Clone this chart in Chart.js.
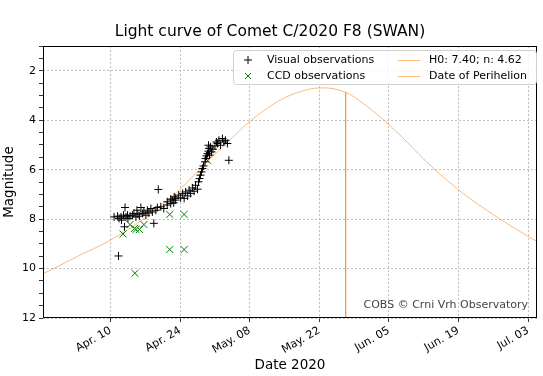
<!DOCTYPE html>
<html>
<head>
<meta charset="utf-8">
<script src="https://cdn.jsdelivr.net/npm/chart.js@4.4.1/dist/chart.umd.min.js"></script>
<style>
    html, body { margin: 0; padding: 0; background: #fff; }
</style>
</head>
<body>
<canvas id="myChart" width="543" height="376"></canvas>
<script>
// x values are day of year 2020 (Jan 1 = 1)
const tickDays = [101, 115, 129, 143, 157, 171, 185];
const tickLabels = ["Apr. 10", "Apr. 24", "May. 08", "May. 22", "Jun. 05", "Jun. 19", "Jul. 03"];

const visualDays = [
    101.7, 102.4, 102.7, 103.1, 103.2, 103.6, 103.9, 104.1, 104.4, 104.5,
    104.9, 105.4, 105.7, 106.1, 106.3, 106.5, 106.8, 107.1, 107.4, 107.7,
    108.1, 108.4, 108.7, 109.1, 109.4, 109.7, 110.1, 110.4, 111.1, 111.7,
    112.4, 113.1, 113.7, 103.8, 102.6, 110.6, 112.4, 113.4, 114.0,
    113.1, 113.8, 114.1, 114.7, 115.1, 115.5, 115.8, 116.1, 116.5, 116.8,
    117.1, 117.5, 117.8, 118.1, 118.5, 118.7, 118.9, 119.1, 119.3, 119.5,
    119.7, 120.0, 120.1, 120.3, 120.5, 120.7, 120.8, 120.9, 121.1, 121.3,
    121.6, 122.0, 122.5, 122.8, 123.1, 123.5, 123.8, 124.1, 124.5, 124.8,
    120.7, 122.3,
];
const visualMags = [
    7.91, 7.88, 7.97, 7.91, 8.04, 7.84, 7.53, 7.91, 7.84, 7.97,
    7.88, 7.84, 7.77, 7.91, 7.64, 7.80, 7.88, 7.53, 7.77, 7.71,
    7.84, 7.64, 7.75, 7.57, 7.71, 8.17, 7.64, 7.53, 7.50, 7.57,
    7.43, 7.37, 7.34, 8.31, 9.49, 6.80, 7.30, 7.23, 7.16,
    7.19, 7.10, 7.23, 7.03, 7.14, 6.96, 7.16, 6.90, 7.06, 6.83,
    6.96, 6.74, 6.87, 6.63, 6.79, 6.49, 6.36, 6.22, 6.09, 5.95,
    5.85, 5.68, 5.55, 5.44, 5.35, 5.25, 5.14, 5.41, 5.08, 5.28,
    5.17, 5.04, 4.94, 4.81, 5.01, 4.74, 4.88, 4.81, 4.94, 5.62,
    5.01, 4.88,
];

const ccdDays = [103.5, 104.9, 105.8, 106.1, 106.8, 107.7, 105.9, 112.9, 115.8, 112.9, 115.8, 120.5];
const ccdMags = [8.60, 8.22, 8.38, 8.42, 8.42, 8.22, 10.19, 7.81, 7.81, 9.23, 9.23, 5.62];

// model light curve
const curveDays = [
    86.8, 91, 95, 99.8, 105, 110, 115, 120.5, 125, 129, 133, 136, 139, 141,
    143, 145, 147, 149, 151, 154, 157, 160, 163, 166, 169, 172, 175, 178, 181, 185, 187,
];
const curveMags = [
    10.27, 9.85, 9.44, 8.98, 8.36, 7.64, 6.79, 5.66, 4.80, 4.05, 3.45, 3.09, 2.85, 2.74,
    2.69, 2.70, 2.78, 2.93, 3.20, 3.66, 4.18, 4.75, 5.37, 5.95, 6.48, 6.97, 7.41, 7.82, 8.21, 8.70, 8.93,
];

const perihelionDay = 148.3;
const perihelionMags = [2.88, 12];

const FONT = "'DejaVu Sans', sans-serif";
const orange = "rgba(255, 127, 14, 0.55)";
const gridGrey = "#b0b0b0";

const pts = (xs, ys) => xs.map((x, i) => ({ x: x, y: ys[i] }));

// frame, legend box and credit line
const extras = {
    id: "extras",
    afterDraw(chart) {
        const ctx = chart.ctx;
        const a = chart.chartArea;
        ctx.save();
        ctx.strokeStyle = "#000";
        ctx.lineWidth = 1;
        ctx.strokeRect(Math.round(a.left) + 0.5, Math.round(a.top) + 0.5,
            Math.round(a.right - a.left) - 1, Math.round(a.bottom - a.top) - 1);

        // credit
        ctx.font = "11px " + FONT;
        ctx.fillStyle = "#444";
        ctx.textAlign = "right";
        ctx.textBaseline = "middle";
        ctx.fillText("COBS \u00a9 Crni Vrh Observatory", 528, 305);

        // legend
        ctx.beginPath();
        if (ctx.roundRect) ctx.roundRect(233.5, 50.5, 303, 34, 3);
        else ctx.rect(233.5, 50.5, 303, 34);
        ctx.fillStyle = "rgba(255,255,255,0.8)";
        ctx.fill();
        ctx.strokeStyle = "#d0d0d0";
        ctx.stroke();

        const r1 = 60, r2 = 76;
        ctx.lineWidth = 1;
        ctx.strokeStyle = "#000";
        ctx.beginPath();
        ctx.moveTo(244, r1); ctx.lineTo(252, r1);
        ctx.moveTo(248, r1 - 4); ctx.lineTo(248, r1 + 4);
        ctx.stroke();
        ctx.strokeStyle = "green";
        ctx.beginPath();
        ctx.moveTo(245, r2 - 3); ctx.lineTo(251, r2 + 3);
        ctx.moveTo(251, r2 - 3); ctx.lineTo(245, r2 + 3);
        ctx.stroke();
        ctx.strokeStyle = orange;
        ctx.beginPath();
        ctx.moveTo(398, r1 + 0.5); ctx.lineTo(420, r1 + 0.5);
        ctx.moveTo(398, r2 + 0.5); ctx.lineTo(420, r2 + 0.5);
        ctx.stroke();

        ctx.fillStyle = "#000";
        ctx.textAlign = "left";
        ctx.fillText("Visual observations", 267, r1);
        ctx.fillText("CCD observations", 267, r2);
        ctx.fillText("H0: 7.40; n: 4.62", 429, r1);
        ctx.fillText("Date of Perihelion", 429, r2);
        ctx.restore();
    },
};

const config = {
    type: "scatter",
    data: {
        datasets: [
            {
                label: "Visual observations",
                data: pts(visualDays, visualMags),
                pointStyle: "cross",
                pointRadius: 4,
                borderColor: "#000",
                borderWidth: 1,
            },
            {
                label: "CCD observations",
                data: pts(ccdDays, ccdMags),
                pointStyle: "crossRot",
                pointRadius: 5,
                borderColor: "green",
                borderWidth: 1,
            },
            {
                label: "H0: 7.40; n: 4.62",
                data: pts(curveDays, curveMags),
                showLine: true,
                pointRadius: 0,
                borderColor: orange,
                borderWidth: 1,
                cubicInterpolationMode: "monotone",
            },
            {
                label: "Date of Perihelion",
                data: perihelionMags.map((m) => ({ x: perihelionDay, y: m })),
                showLine: true,
                pointRadius: 0,
                borderColor: orange,
                borderWidth: 1,
            },
        ],
    },
    options: {
        responsive: false,
        animation: false,
        events: [],
        layout: { padding: { left: 0, right: 3, top: 0, bottom: 0 } },
        plugins: {
            legend: { display: false },
            tooltip: { enabled: false },
            title: {
                display: true,
                text: "Light curve of Comet C/2020 F8 (SWAN)",
                color: "#000",
                font: { family: FONT, size: 15.5, weight: "normal" },
                padding: { top: 23, bottom: 4.5 },
            },
        },
        scales: {
            x: {
                type: "linear",
                min: 87.4,
                max: 186.8,
                afterFit: (scale) => { scale.height = 58; },
                afterBuildTicks: (scale) => { scale.ticks = tickDays.map((v) => ({ value: v })); },
                ticks: {
                    autoSkip: false,
                    minRotation: 30,
                    maxRotation: 30,
                    padding: 2,
                    color: "#000",
                    font: { family: FONT, size: 11 },
                    callback: (v) => tickLabels[tickDays.indexOf(v)],
                },
                grid: { color: gridGrey, tickColor: "#000", tickLength: 4, lineWidth: 0.8 },
                border: { display: false, dash: [2, 2] },
                title: {
                    display: true,
                    text: "Date 2020",
                    color: "#000",
                    font: { family: FONT, size: 13.5 },
                    padding: { top: 0, bottom: 2 },
                },
            },
            y: {
                type: "linear",
                reverse: true,
                min: 1,
                max: 12,
                afterFit: (scale) => { scale.width = 43; },
                ticks: {
                    stepSize: 0.5,
                    autoSkip: false,
                    padding: 3,
                    color: "#000",
                    font: { family: FONT, size: 11 },
                    callback: (v) => (v % 2 === 0 ? String(v) : ""),
                },
                grid: {
                    color: (c) => (c.tick && c.tick.value % 2 === 0 ? gridGrey : "rgba(0,0,0,0)"),
                    tickColor: "#000",
                    tickLength: 4,
                    lineWidth: 0.8,
                },
                border: { display: false, dash: [2, 2] },
                title: {
                    display: true,
                    text: "Magnitude",
                    color: "#000",
                    font: { family: FONT, size: 13.5 },
                    padding: { top: 1, bottom: 0 },
                },
            },
        },
    },
    plugins: [extras],
};

new Chart(document.getElementById("myChart"), config);
</script>
</body>
</html>
